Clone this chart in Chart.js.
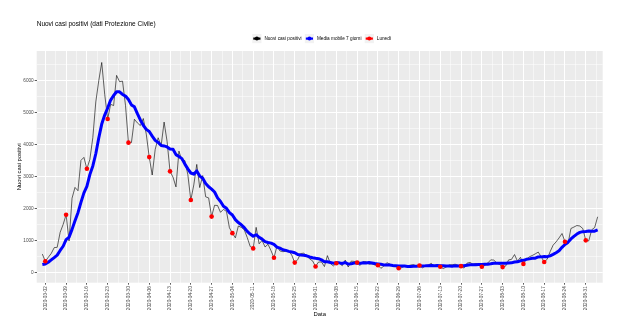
<!DOCTYPE html>
<html><head><meta charset="utf-8">
<script src="https://cdn.jsdelivr.net/npm/chart.js@4.4.0/dist/chart.umd.min.js"></script>
<style>html,body{margin:0;padding:0;background:#fff}canvas{display:block}</style>
</head><body>
<canvas id="c" width="620" height="323"></canvas>
<script>
// ---- data (daily values starting at startDate) ----
const startDate = '2020-03-01';
const nuoviCasi = [
566,342,466,587,769,778,1247,1492,1797,977,2313,2651,2547,3497,3590,3233,3526,4207,5322,5986,6557,5560,4789,5249,5210,6153,5959,5974,5217,4050,4053,
4782,4668,4585,4805,4316,3599,3039,3836,4204,3951,4694,4092,3153,2972,2667,3786,3493,3491,3047,2256,2729,3370,2646,3021,2357,2324,1739,2091,2086,1872,
1965,1900,1389,1221,1075,1444,1401,1327,1083,802,744,1402,888,992,789,875,675,451,813,665,642,652,669,531,300,397,584,593,516,416,355,
178,318,321,177,518,270,197,280,283,202,379,163,346,338,301,210,328,331,251,262,224,218,122,190,296,259,175,174,126,142,
187,201,223,235,192,208,138,193,229,276,188,234,169,114,162,230,233,249,219,190,129,282,306,252,275,255,170,212,289,386,379,
295,239,159,190,384,402,552,347,463,259,412,481,523,574,629,479,320,403,642,845,947,1071,1210,953,878,1367,1411,1460,1444,1365,996,
978,1326,1397,1733
];
const mediaMobile = [
240.9,258.1,311.4,384.1,458.3,535.4,679.3,811.6,1019.4,1092.4,1339.0,1607.9,1860.6,2182.0,2481.7,2686.9,3051.0,3321.6,3703.1,4194.4,4631.6,4913.0,5135.3,5381.4,5524.7,5643.4,5639.6,5556.3,5507.3,5401.7,5230.9,
5169.7,4957.6,4761.3,4594.3,4465.6,4401.1,4256.3,4121.1,4054.9,3964.3,3948.4,3916.4,3852.7,3843.1,3676.1,3616.4,3551.0,3379.1,3229.9,3101.7,3067.0,3167.4,3004.6,2937.1,2775.1,2671.9,2598.0,2506.9,2323.4,2212.9,
2062.0,1996.7,1863.1,1789.1,1644.0,1552.3,1485.0,1393.9,1277.1,1193.3,1125.1,1171.9,1092.4,1034.0,957.1,927.4,909.3,867.4,783.3,751.4,701.4,681.9,652.4,631.9,610.3,550.9,539.3,532.3,512.9,476.7,451.6,
434.1,422.9,385.3,325.9,326.1,305.3,282.7,297.3,292.3,275.3,304.1,253.4,264.3,284.4,287.4,277.0,295.0,288.1,300.7,288.7,272.4,260.6,248.0,228.3,223.3,224.4,212.0,204.9,191.7,194.6,
194.1,180.6,175.4,184.0,186.6,198.3,197.7,198.6,202.6,210.1,203.4,209.4,203.9,200.4,196.0,196.1,190.0,198.7,196.6,199.6,201.7,218.9,229.7,232.4,236.1,241.3,238.4,250.3,251.3,262.7,280.9,
283.7,281.4,279.9,276.7,290.3,292.6,317.3,324.7,356.7,371.0,402.7,416.6,433.9,437.0,477.3,479.6,488.3,487.0,510.0,556.0,609.3,672.4,776.9,867.3,935.1,1038.7,1119.6,1192.9,1246.1,1268.3,1274.4,
1288.7,1282.9,1280.9,1319.9
];
const tickLabels = ['2020-03-02','2020-03-09','2020-03-16','2020-03-23','2020-03-30','2020-04-06','2020-04-13','2020-04-20','2020-04-27','2020-05-04','2020-05-11','2020-05-18','2020-05-25','2020-06-01','2020-06-08','2020-06-15','2020-06-22','2020-06-29','2020-07-06','2020-07-13','2020-07-20','2020-07-27','2020-08-03','2020-08-10','2020-08-17','2020-08-24','2020-08-31'];
const lunediDates = tickLabels;
const lunediValues = [342,1797,3233,4789,4050,3599,3153,2256,1739,1221,744,451,300,178,280,301,218,126,208,169,190,170,159,259,320,953,996];
const yTicks = [0,1000,2000,3000,4000,5000,6000];
const seriesNames = ['Nuovi casi positivi','Media mobile 7 giorni','Luned\u00ec'];
const seriesColors = ['#000000','#0000FF','#FF0000'];

// ---- helpers ----
const DAY = 86400000;
const t0 = Date.parse(startDate);
const dayOf = d => Math.round((Date.parse(d) - t0) / DAY);
const xMin = -1.9, xMax = 188.7, yMin = -328, yMax = 6916;
const FONT = '"Liberation Sans", Arial, Helvetica, sans-serif';

const majorX = tickLabels.map(dayOf);
const minorX = [];
majorX.forEach(v => { const m = v + 3.5; if (m > xMin && m < xMax) minorX.push(m); });
if (majorX[0] - 3.5 > xMin) minorX.push(majorX[0] - 3.5);
const minorY = [];
for (let i = 0; i < yTicks.length; i++) {
  const step = yTicks[1] - yTicks[0];
  [yTicks[i] - step/2, yTicks[i] + step/2].forEach(m => { if (m > yMin && m < yMax && !minorY.includes(m)) minorY.push(m); });
}
const labelOfX = {}; majorX.forEach((v, i) => labelOfX[v] = tickLabels[i]);
const isMajorY = v => yTicks.includes(v);

const panelBg = {
  id: 'panelBg',
  beforeDraw(chart) {
    const {ctx, chartArea: a} = chart;
    ctx.save(); ctx.fillStyle = '#EBEBEB';
    ctx.fillRect(a.left, a.top, a.right - a.left, a.bottom - a.top);
    ctx.restore();
  }
};
const decor = {
  id: 'decor',
  afterDraw(chart) {
    const {ctx, chartArea: a} = chart;
    ctx.save();
    // title
    ctx.fillStyle = '#000'; ctx.font = '6.5px ' + FONT;
    ctx.textBaseline = 'middle'; ctx.textAlign = 'left';
    ctx.fillText('Nuovi casi positivi (dati Protezione Civile)', a.left, 24.5);
    // legend
    ctx.font = '4.7px ' + FONT;
    const keyW = 9.2, gap = 2.9, sp = 3.2, cy = 38.6;
    const widths = seriesNames.map(s => ctx.measureText(s).width);
    let total = 0; widths.forEach(w => total += keyW + gap + w); total += sp * (seriesNames.length - 1);
    let x = 321.7 - total / 2;
    seriesNames.forEach((s, i) => {
      ctx.fillStyle = '#F2F2F2'; ctx.fillRect(x, cy - keyW/2, keyW, keyW);
      ctx.strokeStyle = seriesColors[i]; ctx.lineWidth = 2.2;
      ctx.beginPath(); ctx.moveTo(x + 1, cy); ctx.lineTo(x + keyW - 1, cy); ctx.stroke();
      ctx.fillStyle = seriesColors[i];
      ctx.beginPath(); ctx.arc(x + keyW/2, cy, 2, 0, Math.PI*2); ctx.fill();
      ctx.fillStyle = '#000';
      ctx.fillText(s, x + keyW + gap, cy + 0.3);
      x += keyW + gap + widths[i] + sp;
    });
    ctx.restore();
  }
};

new Chart(document.getElementById('c'), {
  type: 'line',
  data: {
    datasets: [
      { label: seriesNames[2], data: lunediDates.map((d, i) => ({x: dayOf(d), y: lunediValues[i]})),
        showLine: false, pointRadius: 2.3, pointBackgroundColor: seriesColors[2], pointBorderWidth: 0, order: 0 },
      { label: seriesNames[1], data: mediaMobile.map((v, i) => ({x: i, y: v})),
        borderColor: seriesColors[1], borderWidth: 3, pointRadius: 0, borderJoinStyle: 'round', tension: 0, order: 1 },
      { label: seriesNames[0], data: nuoviCasi.map((v, i) => ({x: i, y: v})),
        borderColor: 'rgba(0,0,0,0.8)', borderWidth: 0.75, pointRadius: 0, tension: 0, order: 2 }
    ]
  },
  options: {
    responsive: false, animation: false, devicePixelRatio: 1,
    layout: { padding: { left: 0, right: 17.3, top: 51, bottom: 0 } },
    plugins: { legend: { display: false }, title: { display: false }, tooltip: { enabled: false } },
    scales: {
      x: {
        type: 'linear', min: xMin, max: xMax,
        afterBuildTicks: s => { s.ticks = majorX.concat(minorX).sort((a,b)=>a-b).map(v => ({value: v})); },
        afterFit: s => { s.height = 40.3; },
        ticks: { autoSkip: false, minRotation: 90, maxRotation: 90, padding: 1.5, color: '#4D4D4D',
          font: { family: FONT, size: 4.7 },
          callback: v => labelOfX[v] || '' },
        grid: { color: '#FFFFFF', lineWidth: c => (c.tick && labelOfX[c.tick.value]) ? 1 : 0.5,
          tickLength: 2, tickWidth: 0.8,
          tickColor: c => (c.tick && labelOfX[c.tick.value]) ? '#333333' : 'rgba(0,0,0,0)' },
        border: { display: false },
        title: { display: true, text: 'Data', color: '#000', font: { family: FONT, size: 5.9 }, padding: { top: 0, bottom: 5.5 } }
      },
      y: {
        type: 'linear', min: yMin, max: yMax,
        afterBuildTicks: s => { s.ticks = yTicks.concat(minorY).sort((a,b)=>a-b).map(v => ({value: v})); },
        afterFit: s => { s.width = 36.7; },
        ticks: { padding: 1, color: '#4D4D4D', font: { family: FONT, size: 4.7 },
          callback: v => isMajorY(v) ? String(v) : '' },
        grid: { color: '#FFFFFF', lineWidth: c => (c.tick && isMajorY(c.tick.value)) ? 1 : 0.5,
          tickLength: 2, tickWidth: 0.8,
          tickColor: c => (c.tick && isMajorY(c.tick.value)) ? '#333333' : 'rgba(0,0,0,0)' },
        border: { display: false },
        title: { display: true, text: 'Nuovi casi positivi', color: '#000', font: { family: FONT, size: 5.9 }, padding: { top: 15.5, bottom: 0 } }
      }
    }
  },
  plugins: [panelBg, decor]
});
</script>
</body></html>
